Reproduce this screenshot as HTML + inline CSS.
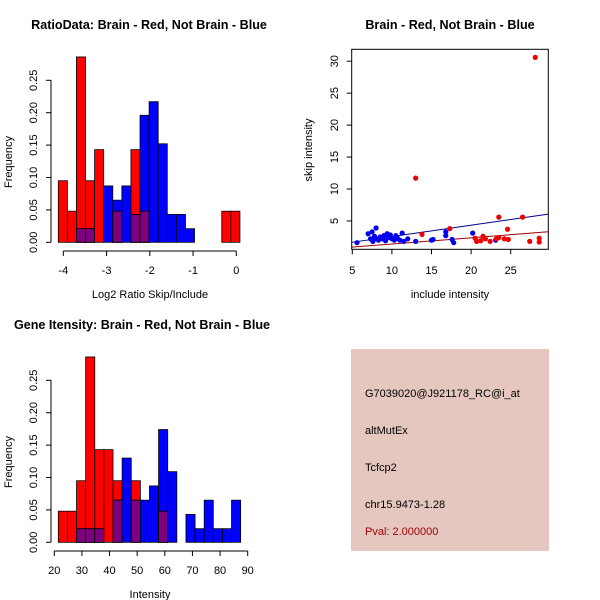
<!DOCTYPE html>
<html><head><meta charset="utf-8"><style>
body{margin:0;background:#fff}
svg{display:block;font-family:"Liberation Sans",sans-serif}
</style></head><body>
<svg id="s" width="600" height="600" viewBox="0 0 600 600" xmlns="http://www.w3.org/2000/svg">
<rect width="600" height="600" fill="#fff"/>
<g id="g1"></g>
<g id="g2"></g>
<g id="g3"></g>
<g font-size="11">
<rect x="351" y="349" width="198" height="202" fill="#e5c7c0"/>
<text x="365" y="397">G7039020@J921178_RC@i_at</text>
<text x="365" y="434">altMutEx</text>
<text x="365" y="471">Tcfcp2</text>
<text x="365" y="508">chr15.9473-1.28</text>
<text x="365" y="535" fill="#a00000">Pval: 2.000000</text>
</g>
</svg>
<script>
const ratioStart = -4.116, ratioWidth = 0.21;
const ratioRed  = [0.095,0.048,0.286,0.095,0.143,0,0.048,0,0.143,0.048,0,0,0,0,0,0,0,0,0.048,0.048];
const ratioBlue = [0,0,0.021,0.021,0,0.087,0.065,0.087,0.043,0.196,0.217,0.152,0.043,0.043,0.021,0,0,0,0,0];
const ratioXTicks = [-4,-3,-2,-1,0];
const intStart = 21.45, intWidth = 3.3;
const intRed  = [0.048,0.048,0.095,0.286,0.143,0.143,0.095,0,0.095,0,0,0.048,0,0,0,0,0,0,0,0];
const intBlue = [0,0,0.021,0.021,0.021,0,0.065,0.130,0.065,0.065,0.087,0.174,0.109,0,0.043,0.021,0.065,0.021,0.021,0.065];
const intXTicks = [20,30,40,50,60,70,80,90];
const freqTicks = [0,0.05,0.10,0.15,0.20,0.25];
const freqLabels = ["0.00","0.05","0.10","0.15","0.20","0.25"];
const blueX = [5.6,7,7.3,7.5,7.6,7.8,8,8,8.3,8.5,8.8,9,9.2,9.4,9.6,9.8,10,10.3,10.5,10.7,11,11.3,11.5,12,13,15,15.2,16.8,16.8,17.6,17.8,20.2,23.1];
const blueY = [1.6,3,2.2,3.3,1.8,2.6,3.9,2.2,2.0,2.5,2.2,2.7,1.9,3.0,2.4,2.8,2.2,2.0,2.7,2.3,2.0,3.1,1.8,2.2,1.8,2.0,2.1,3.3,2.7,2.1,1.6,3.1,2.0];
const redX = [13,13.8,17.3,20.5,20.7,21.2,21.5,21.8,22.4,23.2,23.5,23.5,24.2,24.6,24.7,26.5,27.4,28.1,28.6,28.6];
const redY = [11.7,2.9,3.8,2.3,1.8,1.9,2.6,2.2,1.8,2.2,5.6,2.4,2.2,3.7,2.1,5.6,1.8,30.6,2.3,1.7];
const blueFit = [0.78, 0.178];
const redFit = [0.42, 0.097];
const scXTicks = [5,10,15,20,25];
const scYTicks = [5,10,15,20,25,30];

const NS="http://www.w3.org/2000/svg";
function mk(p,tag,a,txt){const e=document.createElementNS(NS,tag);for(const k in a)e.setAttribute(k,a[k]);if(txt!==undefined)e.textContent=txt;p.appendChild(e);return e;}

function hist(gid,yOff,start,w,red,blue,xt,x0v,x1v,title,xlab,tcx){
  const g=document.getElementById(gid);
  const sx=v=>x0v[1]+(v-x0v[0])*(x1v[1]-x0v[1])/(x1v[0]-x0v[0]);
  const sy=v=>yOff+242.3-v*648;
  for(let i=0;i<red.length;i++){
    const a=sx(start+i*w),b=sx(start+(i+1)*w);
    const r=red[i],bl=blue[i];
    if(r>0){const e=mk(g,'rect',{x:a,y:sy(r),width:b-a,height:sy(0)-sy(r),fill:'#ff0000',stroke:'#000','stroke-width':0.8});
      }
    if(bl>0){const e=mk(g,'rect',{x:a,y:sy(bl),width:b-a,height:sy(0)-sy(bl),fill:'#0000ff',stroke:'#000','stroke-width':0.8});
      }
    const m=Math.min(r,bl);
    if(m>0){const e=mk(g,'rect',{x:a,y:sy(m),width:b-a,height:sy(0)-sy(m),fill:'#7f007f',stroke:'#000','stroke-width':0.8});
      }
  }
  const ya=mk(g,'line',{x1:51,x2:51,y1:sy(0),y2:sy(0.25),stroke:'#000'});
  
  freqTicks.forEach((v,i)=>{mk(g,'line',{x1:46,x2:51,y1:sy(v),y2:sy(v),stroke:'#000'});
    const t=mk(g,'text',{x:0,y:0,'font-size':11,'text-anchor':'middle',transform:`translate(37,${sy(v)}) rotate(-90)`},freqLabels[i]);
    });
  const xa=mk(g,'line',{x1:sx(xt[0]),x2:sx(xt[xt.length-1]),y1:yOff+251,y2:yOff+251,stroke:'#000'});
  
  xt.forEach(v=>{mk(g,'line',{x1:sx(v),x2:sx(v),y1:yOff+251,y2:yOff+256,stroke:'#000'});
    const t=mk(g,'text',{x:sx(v),y:yOff+274,'font-size':11,'text-anchor':'middle'},String(v));
    });
  const tt=mk(g,'text',{x:tcx,y:yOff+29,'font-size':12.6,'font-weight':'bold','text-anchor':'middle'},title);
  
  const xl=mk(g,'text',{x:150,y:yOff+298,'font-size':11,'text-anchor':'middle'},xlab);
  
  const yl=mk(g,'text',{x:0,y:0,'font-size':11,'text-anchor':'middle',transform:`translate(12,${yOff+162}) rotate(-90)`},'Frequency');
  
}
hist('g1',0,ratioStart,ratioWidth,ratioRed,ratioBlue,ratioXTicks,[-4,63.3],[0,236.3],'RatioData: Brain - Red, Not Brain - Blue','Log2 Ratio Skip/Include',149);
hist('g3',300,intStart,intWidth,intRed,intBlue,intXTicks,[20,54.3],[90,247.7],'Gene Itensity: Brain - Red, Not Brain - Blue','Intensity',142);

(function(){
  const g=document.getElementById('g2');
  const sx=v=>352.3+(v-5)*7.92, sy=v=>252.9-v*6.39;
  const L=351.7,R=548.3,T=49.3,B=249.3;
  const cp=mk(g,'clipPath',{id:'cp'});mk(cp,'rect',{x:L,y:T,width:R-L,height:B-T});
  [[blueFit,'#00008b','blue-fit-line'],[redFit,'#a00000','red-fit-line']].forEach(([f,c,n])=>{
    const xa=(L-352.3)/7.92+5,xb=(R-352.3)/7.92+5;
    const l=mk(g,'line',{x1:L,x2:R,y1:sy(f[0]+f[1]*xa),y2:sy(f[0]+f[1]*xb),stroke:c,'clip-path':'url(#cp)'});
    });
  blueX.forEach((x,i)=>{const c=mk(g,'circle',{cx:sx(x),cy:sy(blueY[i]),r:2.6,fill:'#0000ee'});
    });
  redX.forEach((x,i)=>{const c=mk(g,'circle',{cx:sx(x),cy:sy(redY[i]),r:2.6,fill:'#ee0000'});
    });
  const box=mk(g,'rect',{x:L,y:T,width:R-L,height:B-T,fill:'none',stroke:'#000'});
  
  scXTicks.forEach(v=>{mk(g,'line',{x1:sx(v),x2:sx(v),y1:B,y2:B+5,stroke:'#000'});
    const t=mk(g,'text',{x:sx(v),y:274,'font-size':11,'text-anchor':'middle'},String(v));
    });
  scYTicks.forEach(v=>{mk(g,'line',{x1:L-5,x2:L,y1:sy(v),y2:sy(v),stroke:'#000'});
    const t=mk(g,'text',{x:0,y:0,'font-size':11,'text-anchor':'middle',transform:`translate(338,${sy(v)}) rotate(-90)`},String(v));
    });
  const tt=mk(g,'text',{x:450,y:29,'font-size':12.6,'font-weight':'bold','text-anchor':'middle'},'Brain - Red, Not Brain - Blue');
  
  const xl=mk(g,'text',{x:450,y:298,'font-size':11,'text-anchor':'middle'},'include intensity');
  
  const yl=mk(g,'text',{x:0,y:0,'font-size':11,'text-anchor':'middle',transform:'translate(312,150) rotate(-90)'},'skip intensity');
  
})();
</script>
</body></html>
